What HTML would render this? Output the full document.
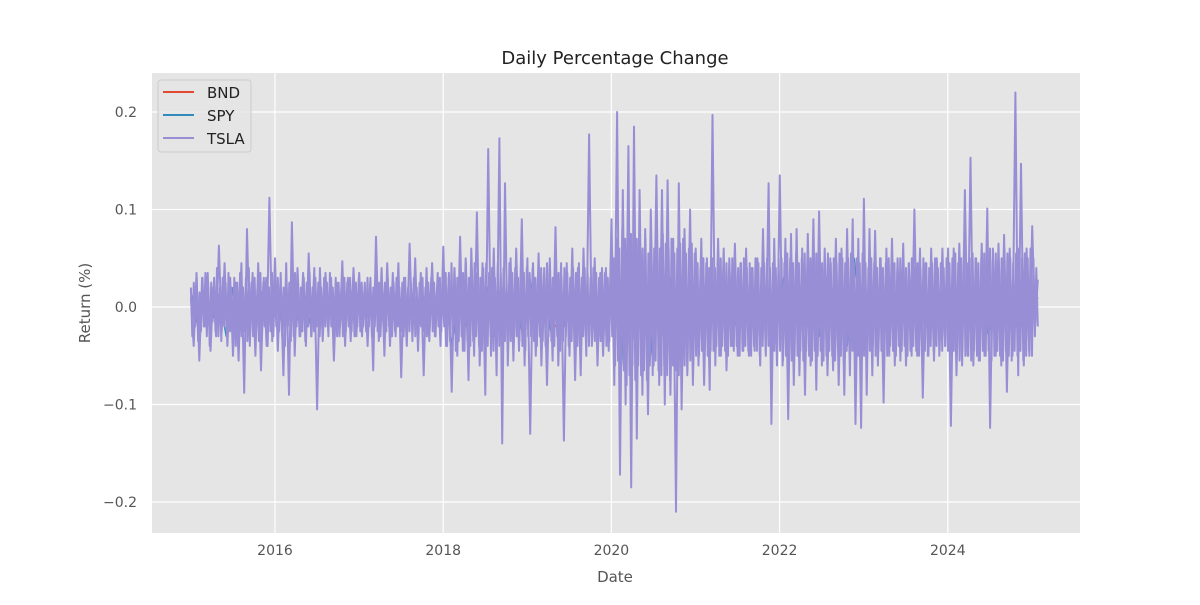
<!DOCTYPE html>
<html><head><meta charset="utf-8"><style>
body{margin:0;background:#fff;font-family:"Liberation Sans","DejaVu Sans",sans-serif;}
svg text{font-family:"DejaVu Sans","Liberation Sans",sans-serif;}
</style></head><body>
<svg id="chart" width="1200" height="600">
<rect x="0" y="0" width="1200" height="600" fill="#fff"/>
<rect x="152" y="73" width="928" height="460" fill="#E5E5E5"/>
<g id="grid"></g>
<g id="series"></g>
<g id="ticks"></g>
<text x="615" y="64" text-anchor="middle" font-size="18" fill="#222">Daily Percentage Change</text>
<text x="615" y="582" text-anchor="middle" font-size="15" fill="#555">Date</text>
<text x="90" y="303" text-anchor="middle" font-size="15" fill="#555" transform="rotate(-90 90 303)">Return (%)</text>
<g>
<rect x="158" y="80" width="93" height="72" rx="3" fill="#E5E5E5" fill-opacity="0.8" stroke="#ccc"/>
<g><line x1="163" y1="92" x2="194" y2="92" stroke="#E24A33" stroke-width="2"/><text x="207" y="98" font-size="15" fill="#222">BND</text></g>
<g><line x1="163" y1="115" x2="194" y2="115" stroke="#348ABD" stroke-width="2"/><text x="207" y="121" font-size="15" fill="#222">SPY</text></g>
<g><line x1="163" y1="138" x2="194" y2="138" stroke="#988ED5" stroke-width="2"/><text x="207" y="144" font-size="15" fill="#222">TSLA</text></g>
</g>
</svg>
<script>
const startYear = 2015.0;
const endYear = 2025.07;
const xTicks = [2016, 2018, 2020, 2022, 2024];
const yTicks = [-0.2, -0.1, 0.0, 0.1, 0.2];
const yTickLabels = ["\u22120.2", "\u22120.1", "0.0", "0.1", "0.2"];
const tsla = [
0.01,-0.04,0.035,-0.055,0.03,-0.02,0.035,-0.045,0.02,-0.03,0.063,-0.025,0.045,-0.04,0.03,-0.05,0.025,-0.055,0.045,-0.088,0.08,-0.04,0.035,-0.05,0.045,-0.065,0.03,-0.04,0.112,-0.035,
0.05,-0.045,0.03,-0.07,0.045,-0.09,0.087,-0.05,0.04,-0.03,0.035,-0.04,0.055,-0.03,0.04,-0.105,0.04,-0.035,0.035,-0.025,0.03,-0.055,0.025,-0.03,0.047,-0.04,0.03,-0.035,0.04,-0.03,
0.035,-0.03,0.025,-0.04,0.03,-0.065,0.072,-0.035,0.04,-0.05,0.045,-0.04,0.035,-0.03,0.045,-0.072,0.03,-0.04,0.065,-0.035,0.05,-0.045,0.035,-0.07,0.04,-0.035,0.045,-0.03,0.035,-0.04,
0.062,-0.04,0.035,-0.087,0.04,-0.05,0.072,-0.045,0.05,-0.075,0.06,-0.05,0.097,-0.06,0.045,-0.09,0.162,-0.05,0.06,-0.07,0.173,-0.14,0.127,-0.06,0.05,-0.055,0.06,-0.045,0.09,-0.06,
0.05,-0.13,0.045,-0.05,0.055,-0.06,0.04,-0.08,0.05,-0.055,0.082,-0.06,0.045,-0.137,0.045,-0.05,0.06,-0.075,0.04,-0.07,0.06,-0.05,0.177,-0.04,0.05,-0.06,0.035,-0.05,0.04,-0.045,
0.09,-0.08,0.2,-0.172,0.12,-0.1,0.165,-0.185,0.185,-0.135,0.12,-0.09,0.08,-0.11,0.1,-0.06,0.135,-0.08,0.12,-0.1,0.13,-0.09,0.07,-0.21,0.127,-0.105,0.08,-0.07,0.1,-0.08,
0.06,-0.06,0.07,-0.08,0.05,-0.085,0.197,-0.06,0.07,-0.05,0.06,-0.065,0.05,-0.04,0.065,-0.05,0.045,-0.045,0.06,-0.05,0.04,-0.045,0.05,-0.06,0.08,-0.05,0.127,-0.12,0.07,-0.06,
0.135,-0.06,0.07,-0.115,0.075,-0.08,0.08,-0.07,0.06,-0.09,0.075,-0.06,0.09,-0.085,0.098,-0.06,0.06,-0.07,0.05,-0.065,0.07,-0.08,0.06,-0.09,0.08,-0.07,0.09,-0.12,0.07,-0.124,
0.111,-0.09,0.08,-0.07,0.078,-0.06,0.05,-0.098,0.06,-0.05,0.07,-0.06,0.05,-0.055,0.065,-0.06,0.045,-0.05,0.1,-0.05,0.06,-0.093,0.045,-0.05,0.06,-0.055,0.05,-0.045,0.06,-0.04,
0.06,-0.122,0.06,-0.07,0.065,-0.06,0.12,-0.05,0.153,-0.06,0.05,-0.055,0.065,-0.05,0.101,-0.124,0.06,-0.05,0.065,-0.06,0.074,-0.087,0.06,-0.05,0.22,-0.07,0.147,-0.06,0.06,-0.05,
0.083,-0.02,0.028];
const tslaCore = [
0.02,-0.03,0.025,-0.02,0.03,-0.035,0.015,-0.025,0.03,-0.02,0.035,-0.03,0.02,-0.04,0.025,-0.015,0.03,-0.025,0.04,-0.03,0.02,-0.035,0.03,-0.02,0.025,-0.03,0.035,-0.025,0.02,-0.03,0.03,-0.04,0.025,-0.02,0.035,-0.03,0.02,-0.025,0.03,-0.035,0.04,-0.02,0.025,-0.03,0.03,-0.025,0.02,-0.035,0.035,-0.03,0.025,-0.02,0.03,-0.04,0.02,-0.025,0.035,-0.03,0.025,-0.02,
0.03,-0.025,0.035,-0.03,0.02,-0.04,0.03,-0.02,0.025,-0.035,0.03,-0.03,0.035,-0.02,0.025,-0.03,0.02,-0.025,0.03,-0.035,0.025,-0.02,0.035,-0.03,0.02,-0.025,0.03,-0.02,0.025,-0.03,0.02,-0.025,0.03,-0.02,0.025,-0.03,0.035,-0.02,0.02,-0.025,0.03,-0.03,0.025,-0.02,0.02,-0.03,0.03,-0.025,0.025,-0.02,0.03,-0.025,0.02,-0.03,0.025,-0.02,0.03,-0.025,
0.025,-0.02,0.02,-0.025,0.03,-0.02,0.025,-0.03,0.02,-0.02,0.03,-0.025,0.025,-0.03,0.02,-0.02,0.025,-0.025,0.03,-0.02,0.02,-0.03,0.025,-0.025,0.03,-0.02,0.02,-0.025,0.025,-0.03,0.03,-0.02,0.02,-0.025,0.025,-0.02,0.03,-0.03,0.02,-0.025,0.025,-0.02,0.03,-0.025,0.02,-0.03,0.025,-0.02,0.03,-0.025,0.025,-0.03,0.02,-0.02,0.03,-0.025,0.025,-0.02,
0.035,-0.04,0.03,-0.035,0.045,-0.03,0.04,-0.045,0.03,-0.035,0.04,-0.03,0.035,-0.045,0.045,-0.035,0.03,-0.04,0.04,-0.035,0.045,-0.03,0.035,-0.04,0.03,-0.045,0.04,-0.035,0.045,-0.04,0.035,-0.03,0.04,-0.045,0.03,-0.035,0.045,-0.04,0.035,-0.03,0.04,-0.035,0.03,-0.045,0.045,-0.035,0.035,-0.04,0.04,-0.03,0.03,-0.035,0.045,-0.04,0.035,-0.045,0.04,-0.03,
0.035,-0.03,0.04,-0.035,0.03,-0.04,0.035,-0.03,0.04,-0.035,0.03,-0.04,0.045,-0.03,0.035,-0.035,0.03,-0.04,0.04,-0.03,0.035,-0.045,0.03,-0.035,0.04,-0.03,0.035,-0.04,0.03,-0.035,0.04,-0.03,0.035,-0.04,0.045,-0.035,0.03,-0.03,0.04,-0.035,0.035,-0.04,0.03,-0.03,0.04,-0.035,0.035,-0.04,0.03,-0.035,0.04,-0.03,0.035,-0.04,0.03,-0.035,0.04,-0.03,
0.05,-0.06,0.07,-0.055,0.06,-0.07,0.08,-0.065,0.07,-0.08,0.06,-0.07,0.075,-0.06,0.065,-0.075,0.07,-0.06,0.08,-0.07,0.06,-0.065,0.07,-0.075,0.055,-0.06,0.065,-0.07,0.06,-0.055,0.07,-0.065,0.06,-0.07,0.075,-0.06,0.065,-0.07,0.06,-0.075,0.07,-0.06,0.055,-0.065,0.06,-0.07,0.065,-0.055,0.07,-0.06,0.055,-0.065,0.06,-0.055,0.065,-0.06,0.055,-0.05,
0.045,-0.05,0.04,-0.045,0.05,-0.04,0.045,-0.05,0.04,-0.045,0.05,-0.045,0.04,-0.04,0.045,-0.05,0.05,-0.04,0.04,-0.045,0.045,-0.05,0.04,-0.04,0.05,-0.045,0.045,-0.04,0.04,-0.05,0.045,-0.045,0.05,-0.04,0.04,-0.045,0.045,-0.05,0.04,-0.04,0.05,-0.045,0.045,-0.05,0.04,-0.04,0.045,-0.045,0.05,-0.04,0.04,-0.05,0.045,-0.045,0.04,-0.04,0.05,-0.045,
0.05,-0.055,0.045,-0.05,0.055,-0.045,0.05,-0.055,0.045,-0.05,0.055,-0.05,0.045,-0.045,0.05,-0.055,0.055,-0.045,0.045,-0.05,0.05,-0.055,0.045,-0.045,0.055,-0.05,0.05,-0.045,0.045,-0.055,0.05,-0.05,0.055,-0.045,0.045,-0.05,0.05,-0.055,0.045,-0.045,0.055,-0.05,0.05,-0.055,0.045,-0.045,0.05,-0.05,0.055,-0.045,0.045,-0.055,0.05,-0.05,0.045,-0.045,0.055,-0.05,
0.045,-0.05,0.04,-0.045,0.05,-0.04,0.045,-0.05,0.04,-0.045,0.05,-0.045,0.04,-0.04,0.045,-0.05,0.05,-0.04,0.04,-0.045,0.045,-0.05,0.04,-0.04,0.05,-0.045,0.045,-0.04,0.04,-0.05,0.045,-0.045,0.05,-0.04,0.04,-0.045,0.045,-0.05,0.04,-0.04,0.05,-0.045,0.045,-0.05,0.04,-0.04,0.045,-0.045,0.05,-0.04,0.04,-0.05,0.045,-0.045,0.04,-0.04,0.05,-0.045,
0.045,-0.05,0.05,-0.045,0.055,-0.05,0.045,-0.055,0.05,-0.045,0.06,-0.05,0.045,-0.05,0.05,-0.055,0.055,-0.045,0.05,-0.05,0.045,-0.055,0.05,-0.045,0.055,-0.05,0.05,-0.045,0.06,-0.055,0.05,-0.05,0.055,-0.045,0.045,-0.05,0.05,-0.055,0.06,-0.045,0.055,-0.05,0.05,-0.055,0.045,-0.045,0.055,-0.05,0.06,-0.045,0.05,-0.055,0.055,-0.05,0.05,-0.045,0.06,-0.05,
0.05,-0.03,0.04,-0.02];
const spy = [0.015,-0.02,0.01,-0.015,0.012,-0.03,0.02,-0.01,0.01,-0.02,0.015,-0.01,
0.02,-0.02,0.01,-0.015,0.015,-0.02,0.01,-0.01,0.01,-0.015,0.01,-0.01,
0.01,-0.01,0.01,-0.01,0.01,-0.01,0.01,-0.01,0.01,-0.01,0.01,-0.01,
0.02,-0.04,0.02,-0.02,0.015,-0.02,0.02,-0.03,0.02,-0.02,0.02,-0.03,
0.03,-0.02,0.02,-0.025,0.015,-0.02,0.02,-0.02,0.015,-0.02,0.02,-0.02,
0.04,-0.06,0.09,-0.05,0.04,-0.06,0.03,-0.03,0.03,-0.02,0.02,-0.02,
0.015,-0.02,0.02,-0.015,0.02,-0.02,0.015,-0.02,0.015,-0.02,0.015,-0.02,
0.03,-0.03,0.025,-0.04,0.03,-0.03,0.03,-0.035,0.03,-0.04,0.05,-0.03,
0.02,-0.02,0.015,-0.02,0.015,-0.015,0.01,-0.015,0.02,-0.02,0.015,-0.015,
0.01,-0.015,0.01,-0.015,0.01,-0.03,0.015,-0.015,0.015,-0.02,0.01,-0.01,0.01];
const bnd = [0.004,-0.003,0.003,-0.004,0.003,-0.003,0.004,-0.003,0.003,-0.003,0.003,-0.003,
0.003,-0.003,0.003,-0.003,0.003,-0.004,0.003,-0.003,0.003,-0.003,0.003,-0.003,
0.01,-0.02,0.01,-0.008,0.006,-0.005,0.005,-0.005,0.005,-0.005,0.005,-0.005,
0.008,-0.01,0.008,-0.008,0.01,-0.01,0.01,-0.008,0.008,-0.006,0.006,-0.006,
0.006,-0.006,0.006,-0.006,0.006,-0.006,0.005,-0.006,0.006,-0.005,0.005];
const NS="http://www.w3.org/2000/svg";
function xs(y){return 275+(y-2016)*84.1;}
function ys(v){return 307-v*975;}
const grid=document.getElementById('grid'), tk=document.getElementById('ticks'), ser=document.getElementById('series');
xTicks.forEach(t=>{
 const l=document.createElementNS(NS,'line');
 l.setAttribute('x1',xs(t));l.setAttribute('x2',xs(t));l.setAttribute('y1',73);l.setAttribute('y2',533);
 l.setAttribute('stroke','#fff');l.setAttribute('stroke-width','1.2');
 
 
 grid.appendChild(l);
 const tx=document.createElementNS(NS,'text');
 tx.setAttribute('x',xs(t));tx.setAttribute('y',555);tx.setAttribute('text-anchor','middle');
 tx.setAttribute('font-size','14');tx.setAttribute('fill','#555');tx.textContent=t;
 
 
 tk.appendChild(tx);
});
yTicks.forEach((t,i)=>{
 const l=document.createElementNS(NS,'line');
 l.setAttribute('x1',152);l.setAttribute('x2',1080);l.setAttribute('y1',ys(t));l.setAttribute('y2',ys(t));
 l.setAttribute('stroke','#fff');l.setAttribute('stroke-width','1.2');
 
 
 grid.appendChild(l);
 const tx=document.createElementNS(NS,'text');
 tx.setAttribute('x',137);tx.setAttribute('y',ys(t)+5);tx.setAttribute('text-anchor','end');
 tx.setAttribute('font-size','14');tx.setAttribute('fill','#555');tx.textContent=yTickLabels[i];
 
 
 tk.appendChild(tx);
});
function line(arr,color,name,w){
 const step=(endYear-startYear)/(arr.length-1);
 const p=document.createElementNS(NS,'polyline');
 p.setAttribute('points',arr.map((v,i)=>xs(startYear+i*step).toFixed(1)+','+ys(v).toFixed(1)).join(' '));
 p.setAttribute('fill','none');p.setAttribute('stroke',color);p.setAttribute('stroke-width',w);
 p.setAttribute('stroke-linejoin','round');
 
 
 ser.appendChild(p);
}
line(bnd,'#E24A33','bnd-line','1.5');
line(spy,'#348ABD','spy-line','1.5');
line(tslaCore,'#988ED5','tsla-line-core','2');
line(tsla,'#988ED5','tsla-line','2');
</script>
</body></html>
